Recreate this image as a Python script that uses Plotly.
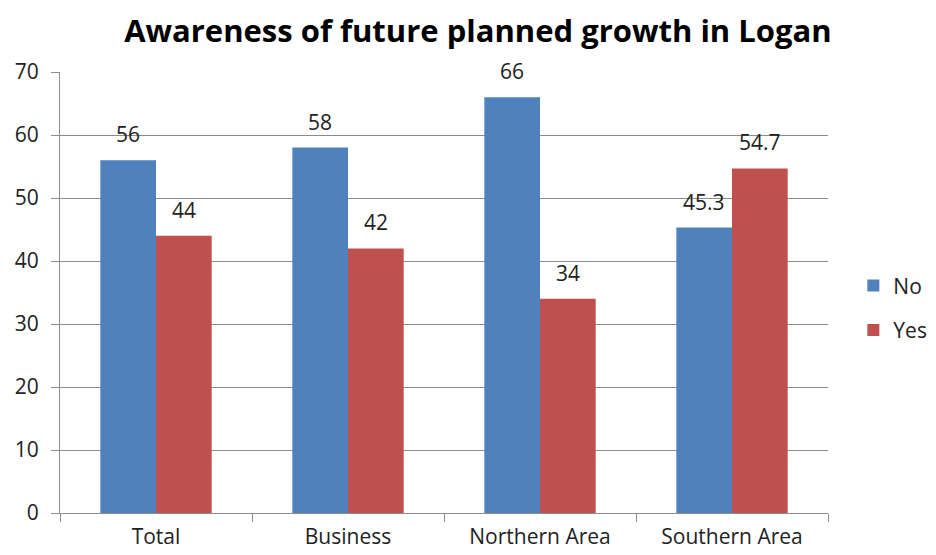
import plotly.graph_objects as go

categories = ["Total", "Business", "Northern Area", "Southern Area"]
no_values = [56, 58, 66, 45.3]
yes_values = [44, 42, 34, 54.7]
y_ticks = [0, 10, 20, 30, 40, 50, 60, 70]

font_family = "'Open Sans', sans-serif"
text_color = "#222222"
axis_gray = "#8c8c8c"

fig = go.Figure()
fig.add_trace(go.Bar(
    name="No", x=categories, y=no_values, legendgroup="no",
    marker=dict(color="#4F81BD", line=dict(width=0)),
))
fig.add_trace(go.Bar(
    name="Yes", x=categories, y=yes_values, legendgroup="yes",
    marker=dict(color="#C0504D", line=dict(width=0)),
))

annotations = []
for series, shift in ((no_values, -28), (yes_values, 28)):
    for cat, val in zip(categories, series):
        annotations.append(dict(
            x=cat, y=val, xref="x", yref="y", text=str(val),
            showarrow=False, xshift=shift, yshift=26,
            xanchor="center", yanchor="middle",
            font=dict(size=21, color=text_color, family=font_family),
        ))

fig.update_layout(
    width=936, height=555,
    paper_bgcolor="white", plot_bgcolor="white",
    margin=dict(l=52, r=109, t=64, b=50),
    barmode="group", bargap=0.42, bargroupgap=0,
    title=dict(text="<b>Awareness of future planned growth in Logan</b>",
               x=0.502, xanchor="center", y=0.958, yanchor="middle",
               font=dict(size=31, color="black", family=font_family)),
    legend=dict(x=1.033, y=0.465, xanchor="left", yanchor="middle",
                font=dict(size=21, color=text_color, family=font_family),
                tracegroupgap=14, itemwidth=30),
    annotations=annotations,
)
fig.update_yaxes(range=[0, 70], tickvals=y_ticks, showgrid=True,
                 gridcolor=axis_gray, gridwidth=1,
                 showline=True, linecolor=axis_gray, linewidth=1,
                 ticks="outside", ticklen=8, tickcolor=axis_gray,
                 ticklabelstandoff=8, automargin=False,
                 tickfont=dict(size=21, color=text_color, family=font_family),
                 zeroline=False)
fig.update_xaxes(showline=True, linecolor=axis_gray, linewidth=1,
                 ticks="outside", tickson="boundaries", ticklen=8, tickcolor=axis_gray,
                 ticklabelstandoff=5, automargin=False,
                 tickfont=dict(size=21, color=text_color, family=font_family))

fig.write_html("out.html")
